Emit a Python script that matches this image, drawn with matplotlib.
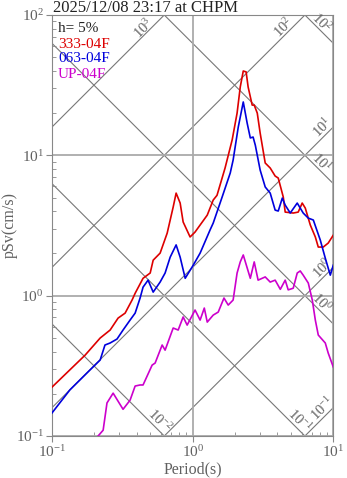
import numpy as np
import matplotlib
matplotlib.use('Agg')
import matplotlib.pyplot as plt
from matplotlib.ticker import LogLocator, NullFormatter

plt.rcParams['font.family'] = ['Liberation Serif', 'DejaVu Serif']
plt.rcParams['mathtext.fontset'] = 'custom'
plt.rcParams['mathtext.rm'] = 'Liberation Serif'
plt.rcParams['mathtext.it'] = 'Liberation Serif:italic'
plt.rcParams['mathtext.bf'] = 'Liberation Serif:bold'

title = '2025/12/08 23:17 at CHPM'
damping = 'h= 5%'
names = ['333-04F', '063-04F', 'UP-04F']
colors = ['#dd0000', '#0000dd', '#cc00cc']

# pseudo velocity response, 333-04F component
period_333 = [0.100, 0.172, 0.220, 0.259, 0.295, 0.331, 0.371, 0.390, 0.444, 0.499,
              0.524, 0.587, 0.659, 0.727, 0.763, 0.815, 0.856, 0.959, 1.04, 1.27,
              1.40, 1.49, 1.70, 1.91, 2.07, 2.18, 2.29, 2.40, 2.48, 2.65,
              2.74, 2.88, 3.02, 3.28, 3.56, 3.86, 4.06, 4.41, 4.55, 5.19,
              5.63, 6.01, 6.32, 6.86, 7.45, 7.82, 8.48, 9.20, 10.0]
psv_333 = [0.223, 0.377, 0.499, 0.569, 0.692, 0.751, 0.931, 1.04, 1.33, 1.45,
           1.79, 2.01, 2.79, 4.28, 5.38, 4.57, 3.35, 2.62, 2.84, 3.75,
           4.80, 5.19, 8.12, 12.9, 20.0, 30.7, 39.9, 39.3, 30.7, 22.8,
           22.8, 20.0, 14.4, 8.82, 8.12, 7.12, 6.89, 5.04, 3.94, 3.88,
           3.94, 4.57, 4.21, 3.19, 2.62, 2.22, 2.22, 2.37, 2.70]

# 063-04F component
period_063 = [0.100, 0.134, 0.186, 0.220, 0.238, 0.259, 0.290, 0.320, 0.359, 0.390,
              0.423, 0.444, 0.482, 0.524, 0.587, 0.637, 0.692, 0.763, 0.815, 0.885,
              1.01, 1.13, 1.33, 1.40, 1.62, 1.85, 1.94, 2.11, 2.29, 2.44,
              2.57, 2.69, 2.79, 3.02, 3.28, 3.56, 3.86, 4.06, 4.34, 4.55,
              4.94, 5.54, 6.11, 6.64, 7.21, 8.08, 8.77, 9.52, 10.0]
psv_063 = [0.146, 0.213, 0.295, 0.348, 0.445, 0.460, 0.491, 0.569, 0.670, 0.751,
           0.962, 1.15, 1.29, 1.06, 1.25, 1.45, 1.88, 2.30, 1.88, 1.33,
           1.65, 2.01, 2.94, 3.29, 5.04, 7.48, 9.26, 15.9, 24.0, 17.0,
           13.3, 13.5, 11.8, 7.85, 5.95, 5.38, 4.07, 4.01, 4.96, 4.42,
           3.88, 4.57, 3.88, 3.57, 3.46, 2.49, 1.85, 1.40, 1.65]

# vertical component
period_up = [0.209, 0.231, 0.246, 0.272, 0.320, 0.359, 0.390, 0.423, 0.444, 0.515,
             0.541, 0.607, 0.637, 0.727, 0.789, 0.856, 0.914, 1.04, 1.13, 1.21,
             1.27, 1.40, 1.52, 1.67, 1.79, 1.94, 2.07, 2.18, 2.29, 2.57,
             2.74, 2.92, 3.28, 3.56, 3.86, 4.20, 4.55, 4.78, 5.19, 5.54,
             5.82, 6.11, 6.64, 7.09, 7.45, 7.82, 8.77, 9.20, 10.0]
psv_up = [0.098, 0.110, 0.172, 0.202, 0.155, 0.180, 0.227, 0.231, 0.231, 0.320,
          0.331, 0.445, 0.409, 0.588, 0.569, 0.705, 0.617, 0.790, 0.670, 0.816,
          0.648, 0.727, 0.764, 0.962, 0.857, 0.931, 1.45, 1.74, 1.95, 1.33,
          1.74, 1.29, 1.36, 1.25, 1.29, 1.11, 1.29, 1.10, 1.13, 1.45,
          1.50, 1.40, 1.23, 0.931, 0.670, 0.524, 0.460, 0.390, 0.310]

# tripartite guide lines: displacement (cm) and acceleration (cm/s^2)
disp_levels = [1e-2, 1e-1, 1e0, 1e1, 1e2]
acc_levels = [1e-1, 1e0, 1e1, 1e2, 1e3]

tmin, tmax = 0.1, 10.0
vmin, vmax = 0.1, 100.0
grey = '#606060'

fig = plt.figure(figsize=(3.47, 4.78), dpi=100)
ax = fig.add_axes([52 / 347, 42 / 478, 281.3 / 347, 421 / 478])
ax.set_xscale('log')
ax.set_yscale('log')
ax.set_xlim(tmin, tmax)
ax.set_ylim(vmin, vmax)

ax.grid(True, which='major', color='#aaaaaa', lw=1.3, zorder=0)

T = np.logspace(-1, 1, 60)
px = 0.72  # pixel -> point
for d in disp_levels:
    ax.plot(T, 2 * np.pi * d / T, color='#777777', lw=0.8, zorder=1)
    lab = r'$10^{%d}$' % int(round(np.log10(d)))
    v_end = 2 * np.pi * d / tmax
    if v_end >= vmin:
        xy, off = (tmax, v_end), (-12, 21)
    else:
        xy, off = (2 * np.pi * d / vmin, vmin), (-5, 15)
    ax.annotate(lab, xy=xy, xytext=(off[0] * px, off[1] * px),
                textcoords='offset points', rotation=-45, ha='center',
                va='center', fontsize=10.5, color=grey, annotation_clip=False)

for a in acc_levels:
    ax.plot(T, a * T / (2 * np.pi), color='#777777', lw=0.8, zorder=1)
    lab = r'$10^{%d}$' % int(round(np.log10(a)))
    v_end = a * tmax / (2 * np.pi)
    if v_end <= vmax:
        xy, off = (tmax, v_end), (-11, -1)
    else:
        xy, off = (2 * np.pi * vmax / a, vmax), (-21, -13)
    ax.annotate(lab, xy=xy, xytext=(off[0] * px, off[1] * px),
                textcoords='offset points', rotation=45, ha='center',
                va='center', fontsize=10.5, color=grey, annotation_clip=False)

series = [(period_333, psv_333), (period_063, psv_063), (period_up, psv_up)]
for (p, v), c in zip(series, colors):
    ax.plot(p, v, color=c, lw=1.2, zorder=3)

# legend as stacked coloured text
x0 = 6 / 281.3
ax.text(x0, 1 - 14 / 421, damping, transform=ax.transAxes, va='center',
        fontsize=11, color='#222222')
for i, (n, c) in enumerate(zip(names, colors)):
    ax.text(x0, 1 - (29 + 15 * i) / 421, n, transform=ax.transAxes,
            va='center', fontsize=11, color=c)

for s in ax.spines.values():
    s.set_color('#888888')
ax.xaxis.set_minor_locator(LogLocator(base=10, subs=np.arange(2, 10)))
ax.yaxis.set_minor_locator(LogLocator(base=10, subs=np.arange(2, 10)))
ax.xaxis.set_minor_formatter(NullFormatter())
ax.yaxis.set_minor_formatter(NullFormatter())
ax.tick_params(which='major', direction='out', length=4, color='#888888',
               labelsize=11, labelcolor=grey, pad=2)
ax.tick_params(which='minor', direction='in', length=3, color='#888888')

ax.set_xlabel('Period(s)', fontsize=11.5, color=grey, labelpad=1)
ax.set_ylabel('pSv(cm/s)', fontsize=11.5, color=grey)
ax.yaxis.set_label_coords(-0.122, 0.5)
fig.text(53 / 347, 1 - 12 / 478, title, ha='left', va='baseline',
         fontsize=12, color='#222222')

fig.savefig('out.png', dpi=100)
